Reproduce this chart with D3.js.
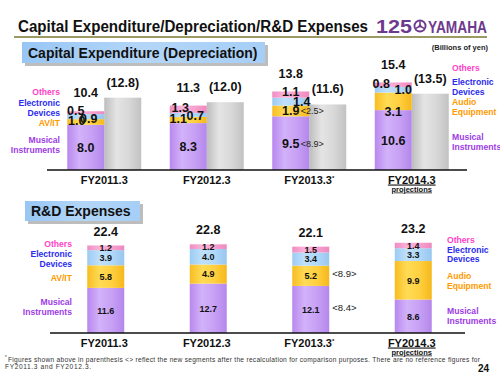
<!DOCTYPE html>
<html>
<head>
<meta charset="utf-8">
<script src="https://cdn.jsdelivr.net/npm/d3@7"></script>
<style>
  body { margin: 0; background: #fff; }
  text { font-family: "Liberation Sans", Arial, sans-serif; }
</style>
</head>
<body>
<script>
// chart values
const years = ["FY2011.3", "FY2012.3", "FY2013.3", "FY2014.3"];

const capexMI    = [8.0, 8.3, 9.5, 10.6];
const capexAV    = [1.0, 1.1, 1.9, 3.1];
const capexED    = [0.9, 0.7, 1.4, 1.0];
const capexOther = [0.5, 1.3, 1.1, 0.8];
const capexTotal = [10.4, 11.3, 13.8, 15.4];
const depreciation = [12.8, 12.0, 11.6, 13.5];
const capexRefMI = [null, null, 8.9, null];
const capexRefAV = [null, null, 2.5, null];

const rdMI    = [11.6, 12.7, 12.1, 8.6];
const rdAV    = [5.8, 4.9, 5.2, 9.9];
const rdED    = [3.9, 4.0, 3.4, 3.3];
const rdOther = [1.2, 1.2, 1.5, 1.4];
const rdTotal = [22.4, 22.8, 22.1, 23.2];
const rdRefMI = [null, null, 8.4, null];
const rdRefAV = [null, null, 8.9, null];

const keys = ["mi", "av", "ed", "ot"];

const W = 500, H = 375;
const svg = d3.select("body").append("svg")
  .attr("width", W).attr("height", H);

const defs = svg.append("defs");
function hgrad(id, stops) {
  const g = defs.append("linearGradient").attr("id", id)
    .attr("x1", "0%").attr("x2", "100%").attr("y1", "0%").attr("y2", "0%");
  stops.forEach((c, i) => g.append("stop")
    .attr("offset", (i / (stops.length - 1) * 100) + "%").attr("stop-color", c));
}
hgrad("gMI", ["#b888ee", "#d2b2fa", "#c7a0f4", "#b487ec"]);
hgrad("gAV", ["#f7bd22", "#ffdb55", "#ffd040", "#f5b81c"]);
hgrad("gED", ["#9ccbf2", "#bfe0fb", "#b0d8f8", "#98c6ef"]);
hgrad("gOT", ["#f08cc2", "#fbb3da", "#f7a2cf", "#ee88bf"]);
hgrad("gDep", ["#bdbdbd", "#e4e4e4", "#d8d8d8", "#c2c2c2"]);
hgrad("gBox", ["#98c6f4", "#b3d6f8", "#a6cef6"]);
const fill = { mi: "url(#gMI)", av: "url(#gAV)", ed: "url(#gED)", ot: "url(#gOT)" };

// ---------- header ----------
svg.append("text").attr("x", 18).attr("y", 32)
  .attr("font-size", 16).attr("font-weight", "bold").attr("fill", "#111")
  .attr("textLength", 350).attr("lengthAdjust", "spacingAndGlyphs")
  .text("Capital Expenditure/Depreciation/R&D  Expenses");
svg.append("line").attr("x1", 14).attr("x2", 487).attr("y1", 37).attr("y2", 37)
  .attr("stroke", "#9a9a62").attr("stroke-width", 2);

// logo
const logo = svg.append("g").attr("fill", "#6e3a8e");
logo.append("text").attr("x", 376).attr("y", 33).attr("font-size", 19)
  .attr("font-weight", "bold").attr("textLength", 36).attr("lengthAdjust", "spacingAndGlyphs")
  .text("125");
logo.append("circle").attr("cx", 420).attr("cy", 26).attr("r", 6.5);
logo.append("circle").attr("cx", 420).attr("cy", 26).attr("r", 4.6).attr("fill", "#fff");
[0, 120, 240].forEach(a => logo.append("rect")
  .attr("x", 419.2).attr("y", 21.3).attr("width", 1.6).attr("height", 4.7)
  .attr("transform", `rotate(${a},420,26)`));
logo.append("circle").attr("cx", 420).attr("cy", 26).attr("r", 1.4);
logo.append("text").attr("x", 428).attr("y", 33).attr("font-size", 16)
  .attr("font-weight", "bold").attr("textLength", 59).attr("lengthAdjust", "spacingAndGlyphs")
  .text("YAMAHA");

svg.append("text").attr("x", 488).attr("y", 50).attr("text-anchor", "end")
  .attr("font-size", 7.5).attr("font-weight", "bold").attr("fill", "#222")
  .text("(Billions of yen)");

function sectionBox(x, y, w, h, label) {
  svg.append("rect").attr("x", x + 3).attr("y", y + 3).attr("width", w).attr("height", h)
    .attr("fill", "#bdbdbd");
  svg.append("rect").attr("x", x).attr("y", y).attr("width", w).attr("height", h)
    .attr("fill", "url(#gBox)");
  svg.append("text").attr("x", x + 6).attr("y", y + h / 2 + 5)
    .attr("font-size", 14).attr("font-weight", "bold").attr("fill", "#111").text(label);
}
sectionBox(22, 42, 243, 21, "Capital Expenditure (Depreciation)");
sectionBox(25, 201, 115, 20, "R&D Expenses");

// ---------- shared x ----------
const x = d3.scaleBand().domain(years).range([53, 463]);
const barW = 37;
const cx = d => x(d) + x.bandwidth() / 2;

function legend(xPos, anchor, items) {
  items.forEach(([txt, y, col]) => svg.append("text")
    .attr("x", xPos).attr("y", y).attr("text-anchor", anchor)
    .attr("font-size", 8.6).attr("font-weight", "bold").attr("fill", col).text(txt));
}
const cOT = "#ff3fc8", cED = "#2b2bf0", cAV = "#ff9a00", cMI = "#9d3be6";

function xAxis(yBase, x1, x2) {
  svg.append("line").attr("x1", x1).attr("x2", x2).attr("y1", yBase).attr("y2", yBase)
    .attr("stroke", "#111").attr("stroke-width", 1.5);
  years.forEach((yr, i) => {
    const t = svg.append("text").attr("x", cx(yr)).attr("y", yBase + 13.5)
      .attr("text-anchor", "middle").attr("font-size", 11).attr("font-weight", "bold")
      .attr("fill", "#111");
    t.text(yr);
    if (i === 2) t.append("tspan").attr("dy", -4).attr("font-size", 6).text("*");
    if (i === 3) {
      t.attr("text-decoration", "underline");
      svg.append("text").attr("x", cx(yr)).attr("y", yBase + 21.5)
        .attr("text-anchor", "middle").attr("font-size", 7.5).attr("font-weight", "bold")
        .attr("fill", "#111").attr("text-decoration", "underline").text("projections");
    }
  });
}

// ---------- capital expenditure ----------
const yTop = d3.scaleLinear().domain([0, 16]).range([170, 170 - 16 * 5.65]);
const capexTable = years.map((yr, i) => ({
  year: yr, mi: capexMI[i], av: capexAV[i], ed: capexED[i], ot: capexOther[i]
}));
const capexSeries = d3.stack().keys(keys)(capexTable);

// depreciation bars
svg.append("g").selectAll("rect").data(years).join("rect")
  .attr("x", d => cx(d)).attr("width", barW)
  .attr("y", (d, i) => yTop(depreciation[i]))
  .attr("height", (d, i) => yTop(0) - yTop(depreciation[i]))
  .attr("fill", "url(#gDep)");

svg.append("g").selectAll("g").data(capexSeries).join("g")
  .attr("fill", s => fill[s.key])
  .selectAll("rect").data(s => s).join("rect")
  .attr("x", d => cx(d.data.year) - barW).attr("width", barW)
  .attr("y", d => yTop(d[1])).attr("height", d => yTop(d[0]) - yTop(d[1]));

// label nudges [dx, dy] from segment centre, per key per year
const capexNudge = {
  mi: [[0, 0], [0, 0], [0, 0], [0, 0]],
  av: [[-9, -1], [-10, -1], [0, 0], [0, 10]],
  ed: [[3, 1.5], [7, 1], [11, 0], [10, 0]],
  ot: [[-10, -2.5], [-8, -2], [0, -3], [-12, -1.5]]
};
const segLabels = svg.append("g").attr("font-size", 12.5).attr("font-weight", "bold")
  .attr("fill", "#111").attr("text-anchor", "middle");
capexSeries.forEach(s => s.forEach((d, i) => {
  const [dx, dy] = capexNudge[s.key][i];
  segLabels.append("text")
    .attr("x", cx(d.data.year) - barW / 2 + dx)
    .attr("y", (yTop(d[0]) + yTop(d[1])) / 2 + dy + 4.5)
    .text(d3.format(".1f")(d.data[s.key]));
}));

// reference figures <..>
years.forEach((yr, i) => {
  [[capexRefMI[i], "mi"], [capexRefAV[i], "av"]].forEach(([v, k]) => {
    if (v == null) return;
    const seg = capexSeries.find(s => s.key === k)[i];
    svg.append("text").attr("x", cx(yr) - barW / 2 + 10)
      .attr("y", (yTop(seg[0]) + yTop(seg[1])) / 2 + 3.5)
      .attr("font-size", 9).attr("fill", "#222").text(`<${v}>`);
  });
});

// totals
svg.append("g").selectAll("text").data(years).join("text")
  .attr("x", d => cx(d) - barW / 2).attr("y", (d, i) => yTop(capexTotal[i]) - 14)
  .attr("text-anchor", "middle").attr("font-size", 12.5).attr("font-weight", "bold")
  .attr("fill", "#111").text((d, i) => d3.format(".1f")(capexTotal[i]));
svg.append("g").selectAll("text").data(years).join("text")
  .attr("x", d => cx(d) + barW / 2).attr("y", (d, i) => yTop(depreciation[i]) - 11)
  .attr("text-anchor", "middle").attr("font-size", 12.5).attr("font-weight", "bold")
  .attr("fill", "#111").text((d, i) => `(${d3.format(".1f")(depreciation[i])})`);

xAxis(170, 47, 467);

legend(60, "end", [
  ["Others", 95, cOT], ["Electronic", 106, cED], ["Devices", 116, cED],
  ["AV/IT", 126, cAV], ["Musical", 143, cMI], ["Instruments", 153, cMI]
]);
legend(452, "start", [
  ["Others", 71, cOT], ["Electronic", 85, cED], ["Devices", 95, cED],
  ["Audio", 105, cAV], ["Equipment", 115, cAV], ["Musical", 140, cMI], ["Instruments", 150, cMI]
]);

// ---------- R&D ----------
const yBot = d3.scaleLinear().domain([0, 25]).range([333, 333 - 25 * 3.89]);
const rdTable = years.map((yr, i) => ({
  year: yr, mi: rdMI[i], av: rdAV[i], ed: rdED[i], ot: rdOther[i]
}));
const rdSeries = d3.stack().keys(keys)(rdTable);
const rdX = d => cx(d) + 1.5;

svg.append("g").selectAll("g").data(rdSeries).join("g")
  .attr("fill", s => fill[s.key])
  .selectAll("rect").data(s => s).join("rect")
  .attr("x", d => rdX(d.data.year) - barW / 2).attr("width", barW)
  .attr("y", d => yBot(d[1])).attr("height", d => yBot(d[0]) - yBot(d[1]));

const rdLabels = svg.append("g").attr("font-size", 9)
  .attr("font-weight", "bold").attr("fill", "#111").attr("text-anchor", "middle");
rdSeries.forEach(s => s.forEach(d => {
  rdLabels.append("text").attr("x", rdX(d.data.year))
    .attr("y", (yBot(d[0]) + yBot(d[1])) / 2 + 3.3)
    .attr("font-family", "DejaVu Sans")
    .text(d3.format(".1f")(d.data[s.key]));
}));

years.forEach((yr, i) => {
  [[rdRefMI[i], "mi"], [rdRefAV[i], "av"]].forEach(([v, k]) => {
    if (v == null) return;
    const seg = rdSeries.find(s => s.key === k)[i];
    svg.append("text").attr("x", rdX(yr) + barW / 2 + 3)
      .attr("y", (yBot(seg[0]) + yBot(seg[1])) / 2 + 1.5)
      .attr("font-size", 9.5).attr("fill", "#222").text(`<${v}>`);
  });
});

svg.append("g").selectAll("text").data(years).join("text")
  .attr("x", d => rdX(d)).attr("y", (d, i) => yBot(rdTotal[i]) - 10)
  .attr("text-anchor", "middle").attr("font-size", 12.5).attr("font-weight", "bold")
  .attr("fill", "#111").text((d, i) => d3.format(".1f")(rdTotal[i]));

xAxis(333, 50, 465);

legend(72, "end", [
  ["Others", 247, cOT], ["Electronic", 257, cED], ["Devices", 267, cED],
  ["AV/IT", 281, cAV], ["Musical", 305, cMI], ["Instruments", 315, cMI]
]);
legend(447, "start", [
  ["Others", 243, cOT], ["Electronic", 253, cED], ["Devices", 262, cED],
  ["Audio", 279, cAV], ["Equipment", 289, cAV], ["Musical", 314, cMI], ["Instruments", 324, cMI]
]);

// ---------- footnote ----------
svg.append("text").attr("x", 5).attr("y", 359).attr("font-size", 4.5).attr("fill", "#333").text("*");
svg.append("text").attr("x", 8).attr("y", 361.5).attr("font-size", 6.6).attr("fill", "#333")
  .attr("textLength", 472).attr("lengthAdjust", "spacing")
  .text("Figures shown above in parenthesis <> reflect the new segments after the recalculation for comparison purposes. There are no reference figures for");
svg.append("text").attr("x", 5).attr("y", 368.5).attr("font-size", 6.6).attr("fill", "#333")
  .attr("textLength", 86).attr("lengthAdjust", "spacing")
  .text("FY2011.3 and FY2012.3.");
svg.append("text").attr("x", 489).attr("y", 372).attr("text-anchor", "end")
  .attr("font-size", 10).attr("font-weight", "bold").attr("fill", "#111").text("24");
</script>
</body>
</html>
